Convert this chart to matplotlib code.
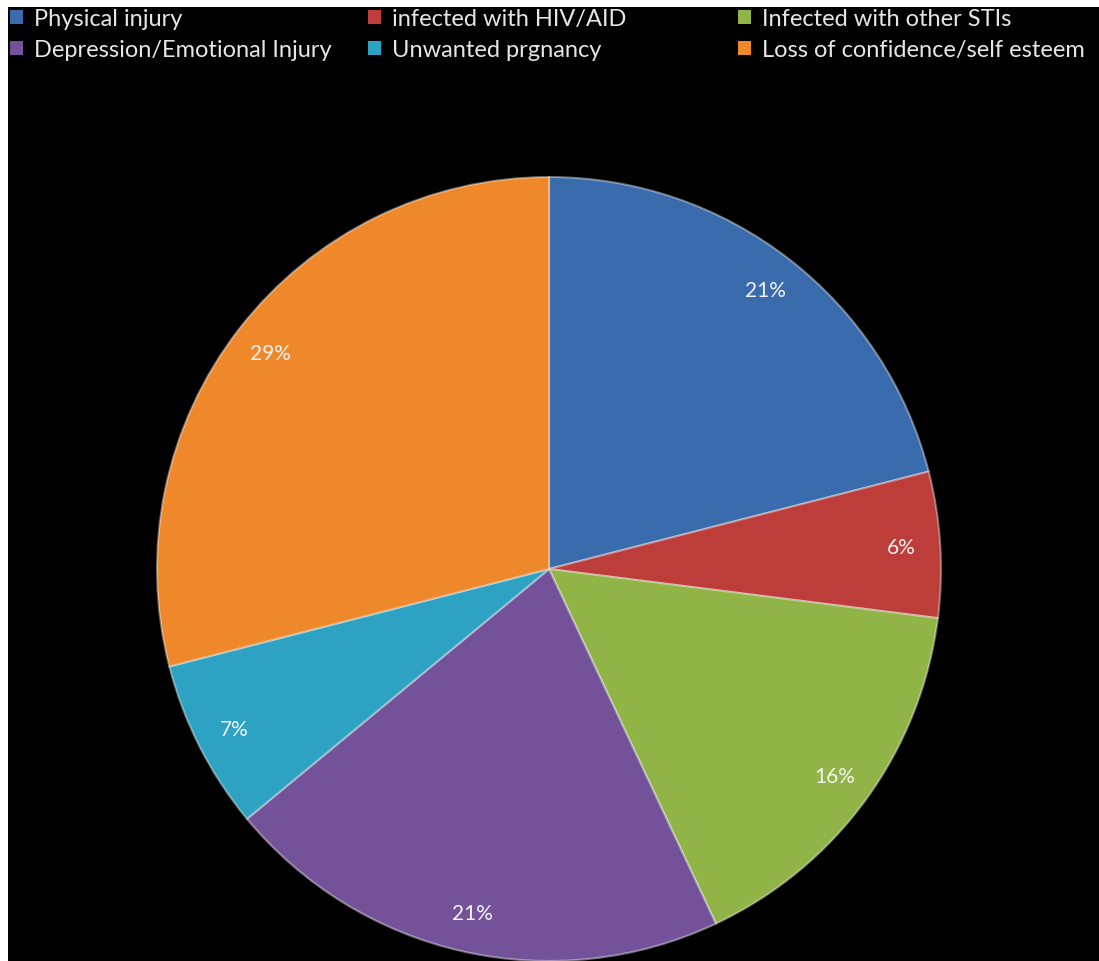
import matplotlib.pyplot as plt
from matplotlib.patches import Patch

labels = ['Physical injury', 'infected with HIV/AID', 'Infected with other STIs',
          'Depression/Emotional Injury', 'Unwanted prgnancy', 'Loss of confidence/self esteem']
values = [21, 6, 16, 21, 7, 29]
colors = ['#3a6cad', '#bd3d3a', '#90b446', '#74529a', '#2da2c2', '#ef882b']

fig = plt.figure(figsize=(10.99, 9.62), dpi=100, facecolor='white')

# black background, leaving the thin white strip on top and left
bg = fig.add_axes([8 / 1099, 0, 1 - 8 / 1099, 1 - 8 / 962])
bg.set_facecolor('black')
bg.set_xticks([])
bg.set_yticks([])
for s in bg.spines.values():
    s.set_visible(False)

# pie axes: center (549, 570) px, radius 392 px
r = 392
ax = fig.add_axes([(549 - r) / 1099, (962 - 570 - r) / 962, 2 * r / 1099, 2 * r / 962])
ax.set_facecolor('none')
wedges, texts, autotexts = ax.pie(values, colors=colors, startangle=90, counterclock=False,
                                  autopct='%1.0f%%', pctdistance=0.9,
                                  wedgeprops=dict(edgecolor=(1, 1, 1, 0.4), linewidth=1.5),
                                  textprops=dict(color='#f2f2f2', fontsize=15, family='Lato'))
ax.set_xlim(-1, 1)
ax.set_ylim(-1, 1)
ax.axis('off')

# legend: three columns, two rows
col_x = [8 / 1099, 366 / 1099, 736 / 1099]
for c in range(3):
    idx = [c, c + 3]
    handles = [Patch(facecolor=colors[i], edgecolor='none') for i in idx]
    fig.legend(handles, [labels[i] for i in idx], loc='upper left',
               bbox_to_anchor=(col_x[c], 1 - 7 / 962), frameon=False,
               labelcolor='#e6e6e6', prop=dict(family='Lato', size=17),
               handlelength=0.55, handleheight=0.55, handletextpad=0.45,
               labelspacing=0.42, borderaxespad=0, borderpad=0.1)

plt.savefig('out.png', dpi=100, facecolor='white')
